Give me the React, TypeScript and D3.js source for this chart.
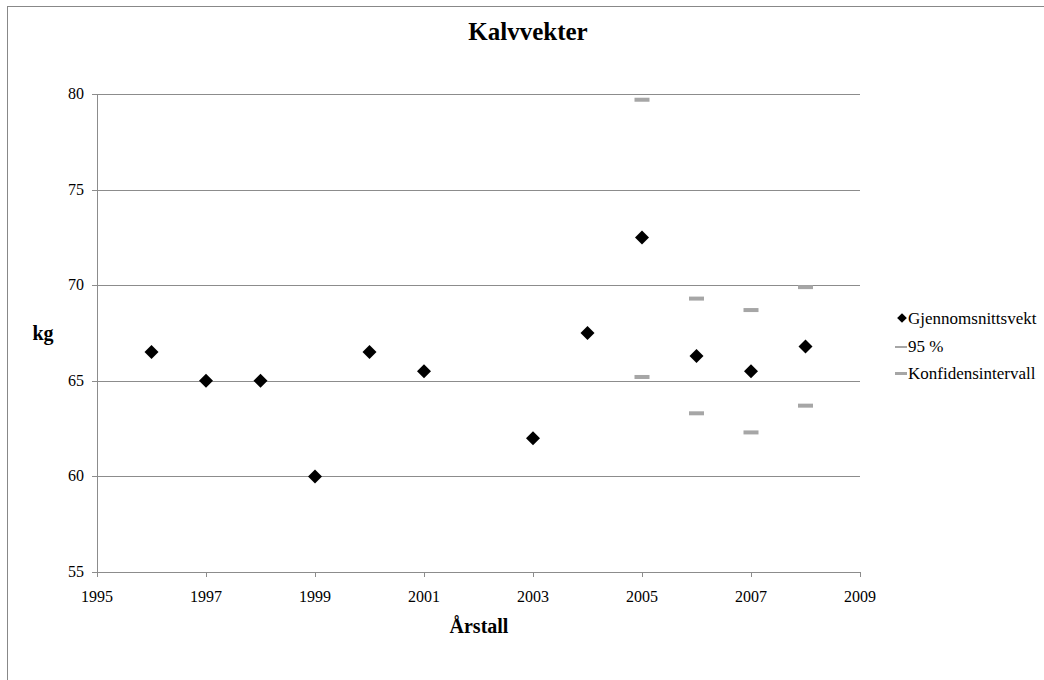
import React from "react";
import * as d3 from "d3";

const years = [1996, 1997, 1998, 1999, 2000, 2001, 2003, 2004, 2005, 2006, 2007, 2008];
const meanWeight = [66.5, 65.0, 65.0, 60.0, 66.5, 65.5, 62.0, 67.5, 72.5, 66.3, 65.5, 66.8];
const ciYears = [2005, 2006, 2007, 2008];
const ciUpper = [79.7, 69.3, 68.7, 69.9];
const ciLower = [65.2, 63.3, 62.3, 63.7];
const xTicks = [1995, 1997, 1999, 2001, 2003, 2005, 2007, 2009];
const yTicks = [55, 60, 65, 70, 75, 80];
const legendLabels = ["Gjennomsnittsvekt", "95 %", "Konfidensintervall"];

const W = 1044;
const H = 680;
const font = "Liberation Serif";

export default function App() {
  const x = d3.scaleLinear().domain([1995, 2009]).range([97, 860]);
  const y = d3.scaleLinear().domain([55, 80]).range([572, 94]);
  const diamond = d3.symbol().type(d3.symbolDiamond2).size(125)();
  const grid = "#8c8c8c";
  const ciColor = "#a6a6a6";
  const txt = { fontFamily: font, fill: "#000" } as React.CSSProperties;

  return (
    <svg
      width={W}
      height={H}
      style={{ position: "absolute", left: 0, top: 0, background: "#fff" }}
    >
      <rect x={7.5} y={6.5} width={W + 20} height={H + 20} fill="#fff" stroke="#888" strokeWidth={1} />
      <text x={528} y={40} textAnchor="middle" fontSize={25} fontWeight="bold" style={txt}>
        Kalvvekter
      </text>
      {yTicks.map((t) => (
        <g key={t}>
          {t !== 55 && (
            <line x1={97} x2={860} y1={Math.round(y(t)) + 0.5} y2={Math.round(y(t)) + 0.5} stroke={grid} />
          )}
          <line x1={92} x2={97} y1={Math.round(y(t)) + 0.5} y2={Math.round(y(t)) + 0.5} stroke={grid} />
          <text x={84} y={y(t) + 5} textAnchor="end" fontSize={16} style={txt}>
            {t}
          </text>
        </g>
      ))}
      <line x1={97.5} x2={97.5} y1={94} y2={572} stroke={grid} />
      <line x1={97} x2={860} y1={572.5} y2={572.5} stroke={grid} />
      {xTicks.map((t) => (
        <g key={t}>
          <line x1={Math.round(x(t)) + 0.5} x2={Math.round(x(t)) + 0.5} y1={572} y2={577} stroke={grid} />
          <text x={x(t)} y={602} textAnchor="middle" fontSize={16} style={txt}>
            {t}
          </text>
        </g>
      ))}
      <text x={43} y={340} textAnchor="middle" fontSize={20} fontWeight="bold" style={txt}>
        kg
      </text>
      <text x={479} y={633} textAnchor="middle" fontSize={20} fontWeight="bold" style={txt}>
        Årstall
      </text>
      {ciYears.map((yr, i) => (
        <g key={yr}>
          <rect x={x(yr) - 7.5} y={y(ciUpper[i]) - 2} width={15} height={4} fill={ciColor} />
          <rect x={x(yr) - 7.5} y={y(ciLower[i]) - 2} width={15} height={4} fill={ciColor} />
        </g>
      ))}
      {years.map((yr, i) => (
        <path key={yr} d={diamond as string} transform={`translate(${x(yr)},${y(meanWeight[i])})`} fill="#000" />
      ))}
      <g>
        <path d={d3.symbol().type(d3.symbolDiamond2).size(60)() as string} transform="translate(902,318)" fill="#000" />
        <text x={908} y={324} fontSize={17} style={txt}>{legendLabels[0]}</text>
        <rect x={895} y={346} width={12} height={2} fill={ciColor} />
        <text x={908} y={352} fontSize={17} style={txt}>{legendLabels[1]}</text>
        <rect x={895} y={372} width={12} height={3} fill={ciColor} />
        <text x={908} y={379} fontSize={17} style={txt}>{legendLabels[2]}</text>
      </g>
    </svg>
  );
}
